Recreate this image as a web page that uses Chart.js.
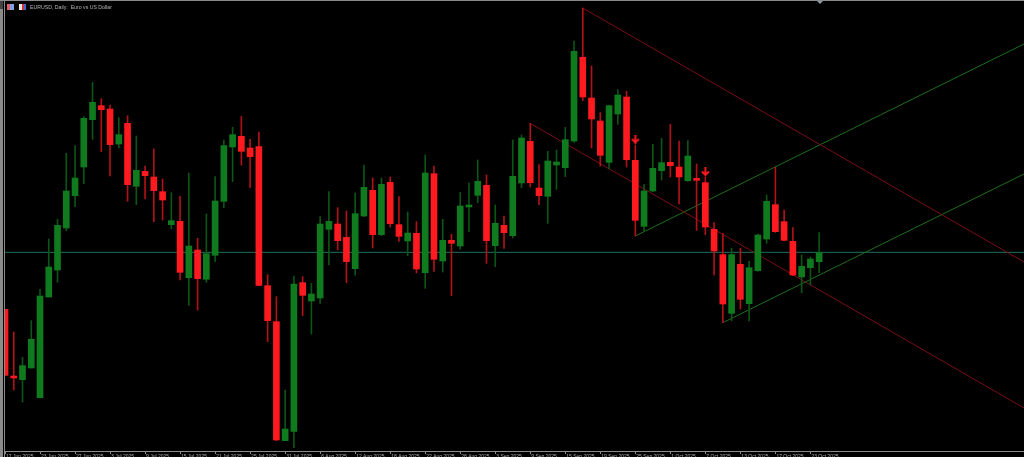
<!DOCTYPE html>
<html>
<head>
<meta charset="utf-8">
<title>EURUSD, Daily</title>
<script src="https://cdn.jsdelivr.net/npm/chart.js@4/dist/chart.umd.min.js"></script>
<style>
  html, body { margin: 0; padding: 0; background: #000; overflow: hidden; }
  #wrap { position: relative; width: 1024px; height: 457px; }
  canvas { position: absolute; left: 0; top: 0; }
  .edge { position: absolute; background: #8a8a8a; }
  .title { position: absolute; left: 30px; top: 4px; color: #b4b4b4; font: 5.2px "Liberation Sans", sans-serif; white-space: nowrap; }
  .icon { position: absolute; top: 4px; width: 7px; height: 6px; }
  .marker { position: absolute; left: 817px; top: 1px; border-left: 3px solid transparent; border-right: 3px solid transparent; border-top: 3px solid #8a97a8; }
</style>
</head>
<body>
<div id="wrap">
  <canvas id="chart" width="1024" height="457"></canvas>
  <div class="edge" style="left:0;top:0;width:1024px;height:1px"></div>
  <div class="edge" style="left:0;top:1px;width:3px;height:8px;background:#444"></div>
  <div class="edge" style="left:0;top:9px;width:3px;height:448px"></div>
  <div class="icon" style="left:7px;background:linear-gradient(90deg,#e0606a 50%,#7f9fe0 50%)"></div>
  <div class="icon" style="left:19px;background:linear-gradient(90deg,#e8e8e8 40%,#d83030 40%,#d83030 65%,#3a6fd0 65%)"></div>
  <div class="title">EURUSD, Daily:&nbsp; Euro vs US Dollar</div>
  <div class="marker"></div>
</div>
<script>
const categories = [
  '17 Jun 2025','18 Jun 2025','19 Jun 2025','20 Jun 2025','23 Jun 2025','24 Jun 2025','25 Jun 2025','26 Jun 2025','27 Jun 2025','30 Jun 2025',
  '1 Jul 2025','2 Jul 2025','3 Jul 2025','4 Jul 2025','7 Jul 2025','8 Jul 2025','9 Jul 2025','10 Jul 2025','11 Jul 2025','14 Jul 2025',
  '15 Jul 2025','16 Jul 2025','17 Jul 2025','18 Jul 2025','21 Jul 2025','22 Jul 2025','23 Jul 2025','24 Jul 2025','25 Jul 2025','28 Jul 2025',
  '29 Jul 2025','30 Jul 2025','31 Jul 2025','1 Aug 2025','4 Aug 2025','5 Aug 2025','6 Aug 2025','7 Aug 2025','8 Aug 2025','11 Aug 2025',
  '12 Aug 2025','13 Aug 2025','14 Aug 2025','15 Aug 2025','18 Aug 2025','19 Aug 2025','20 Aug 2025','21 Aug 2025','22 Aug 2025','25 Aug 2025',
  '26 Aug 2025','27 Aug 2025','28 Aug 2025','29 Aug 2025','1 Sep 2025','2 Sep 2025','3 Sep 2025','4 Sep 2025','5 Sep 2025','8 Sep 2025',
  '9 Sep 2025','10 Sep 2025','11 Sep 2025','12 Sep 2025','15 Sep 2025','16 Sep 2025','17 Sep 2025','18 Sep 2025','19 Sep 2025','22 Sep 2025',
  '23 Sep 2025','24 Sep 2025','25 Sep 2025','26 Sep 2025','29 Sep 2025','30 Sep 2025','1 Oct 2025','2 Oct 2025','3 Oct 2025','6 Oct 2025',
  '7 Oct 2025','8 Oct 2025','9 Oct 2025','10 Oct 2025','13 Oct 2025','14 Oct 2025','15 Oct 2025','16 Oct 2025','17 Oct 2025','20 Oct 2025',
  '21 Oct 2025','22 Oct 2025','23 Oct 2025','24 Oct 2025'
];

const opens = [
  1.15568,1.14768,1.14724,1.14864,1.14508,1.15716,1.16040,1.16544,1.16932,1.17276,
  1.17844,1.18012,1.17972,1.17552,1.17800,1.17044,1.17224,1.17156,1.16980,1.16584,
  1.16624,1.15948,1.16280,1.15928,1.16216,1.16864,1.17516,1.17644,1.17504,1.17520,
  1.15852,1.15420,1.13992,1.14104,1.15888,1.15668,1.15704,1.16528,1.16592,1.16432,
  1.16056,1.16688,1.16996,1.16464,1.17092,1.16584,1.16388,1.16480,1.16008,1.17196,
  1.16148,1.16396,1.16328,1.16796,1.16936,1.17056,1.16332,1.16576,1.16452,1.17084,
  1.17584,1.17024,1.16924,1.17300,1.17268,1.17588,1.18592,1.18104,1.17828,1.17332,
  1.17912,1.18116,1.17356,1.16564,1.16988,1.17232,1.17332,1.17276,1.17112,1.17140,
  1.17088,1.16528,1.16224,1.15520,1.16108,1.15636,1.16032,1.16412,1.16824,1.16620,
  1.16384,1.15956,1.16068,1.16140
];
const highs = [
  1.15568,1.15296,1.14992,1.15432,1.15808,1.16412,1.16648,1.17440,1.17532,1.17880,
  1.18292,1.18096,1.18020,1.17868,1.17892,1.17648,1.17288,1.17492,1.17132,1.16968,
  1.16924,1.17204,1.16420,1.16712,1.17160,1.17600,1.17752,1.17884,1.17608,1.17696,
  1.15984,1.15720,1.14600,1.15968,1.15960,1.15880,1.16680,1.16980,1.16788,1.16748,
  1.16964,1.17300,1.17144,1.17144,1.17156,1.16920,1.16736,1.16620,1.17420,1.17288,
  1.16648,1.16468,1.16972,1.17084,1.17360,1.17180,1.16820,1.16688,1.17600,1.17660,
  1.17800,1.17304,1.17464,1.17480,1.17752,1.18788,1.19184,1.18488,1.17928,1.18020,
  1.18204,1.18184,1.17540,1.17068,1.17548,1.17620,1.17788,1.17588,1.17592,1.17312,
  1.17160,1.16608,1.16480,1.16300,1.16300,1.16144,1.16472,1.16940,1.17272,1.16760,
  1.16548,1.16220,1.16196,1.16488
];
const lows = [
  1.14776,1.14600,1.14456,1.14864,1.14508,1.15716,1.15892,1.16512,1.16800,1.17076,
  1.17608,1.17460,1.17168,1.17504,1.16864,1.16824,1.16892,1.16620,1.16640,1.16536,
  1.15920,1.15616,1.15560,1.15892,1.16140,1.16788,1.17100,1.17300,1.17028,1.15856,
  1.15180,1.13992,1.13992,1.13908,1.15492,1.15272,1.15640,1.16100,1.16280,1.15888,
  1.15976,1.16680,1.16304,1.16452,1.16556,1.16384,1.16212,1.16004,1.15820,1.16024,
  1.16016,1.15732,1.16288,1.16500,1.16848,1.16120,1.16080,1.16300,1.16424,1.17028,
  1.17036,1.16824,1.16600,1.17008,1.17160,1.17572,1.18072,1.17504,1.17288,1.17256,
  1.17788,1.17276,1.16448,1.16500,1.16980,1.17120,1.17156,1.16832,1.17104,1.16516,
  1.16464,1.15980,1.15408,1.15432,1.15572,1.15428,1.16024,1.16360,1.16492,1.16388,
  1.15972,1.15768,1.15860,1.16008
];
const closes = [
  1.14776,1.14744,1.14892,1.15208,1.15728,1.16076,1.16576,1.16988,1.17144,1.17860,
  1.18052,1.17964,1.17544,1.17664,1.17064,1.17236,1.17172,1.16992,1.16880,1.16632,
  1.16012,1.16328,1.15936,1.16236,1.16868,1.17532,1.17664,1.17464,1.17400,1.15856,
  1.15432,1.14000,1.14132,1.15872,1.15736,1.15752,1.16592,1.16624,1.16392,1.16140,
  1.16716,1.17032,1.16464,1.17068,1.16596,1.16444,1.16484,1.16052,1.17204,1.16168,
  1.16396,1.16360,1.16808,1.16820,1.17104,1.16392,1.16600,1.16488,1.17164,1.17624,
  1.17088,1.16932,1.17348,1.17336,1.17604,1.18664,1.18116,1.17852,1.17416,1.18012,
  1.18140,1.17364,1.16636,1.16988,1.17260,1.17328,1.17292,1.17156,1.17408,1.17116,
  1.16556,1.16268,1.15632,1.16224,1.15688,1.16068,1.16460,1.16864,1.16500,1.16396,
  1.15980,1.16084,1.16172,1.16248
];

// trend lines, [bar index, price]
const redUpper = [[66, 1.19184], [116.4, 1.16136]];
const redLower = [[60, 1.17800], [116.4, 1.14384]];
const greenUpper = [[72, 1.16448], [116.4, 1.18752]];
const greenLower = [[82, 1.15408], [116.4, 1.17192]];
const priceLine = [[0, 1.16252], [116.4, 1.16252]];

const arrowBars = [72, 80];
const arrowPrices = [1.17612, 1.17222];

const RED = '#ff1a1f';
const GREEN = '#0f7a1e';
const RED_WICK = '#b01218';
const GREEN_WICK = '#0b5516';

const arrowIcon = document.createElement('canvas');
arrowIcon.width = 9;
arrowIcon.height = 9;
const ic = arrowIcon.getContext('2d');
ic.strokeStyle = RED;
ic.lineWidth = 2;
ic.beginPath();
ic.moveTo(4.5, 0);
ic.lineTo(4.5, 8);
ic.moveTo(1, 4.5);
ic.lineTo(4.5, 8);
ic.lineTo(8, 4.5);
ic.stroke();

const isUp = (i) => closes[i] >= opens[i];
const trend = (pts, color) => ({
  type: 'line',
  data: pts.map(([x, y]) => ({ x, y })),
  borderColor: color,
  borderWidth: 1,
  pointRadius: 0,
  order: 3
});

new Chart(document.getElementById('chart'), {
  type: 'bar',
  data: {
    datasets: [
      {
        // arrows on top of everything
        type: 'scatter',
        data: arrowBars.map((x, i) => ({ x, y: arrowPrices[i] })),
        pointStyle: arrowIcon,
        order: 0
      },
      {
        data: opens.map((o, i) => ({ x: i, y: [o, closes[i]] })),
        backgroundColor: opens.map((o, i) => (isUp(i) ? GREEN : RED)),
        barThickness: 6,
        grouped: false,
        order: 1
      },
      {
        data: lows.map((l, i) => ({ x: i, y: [l, highs[i]] })),
        backgroundColor: opens.map((o, i) => (isUp(i) ? GREEN_WICK : RED_WICK)),
        barThickness: 1,
        grouped: false,
        order: 2
      },
      trend(redUpper, '#7a0f16'),
      trend(redLower, '#7a0f16'),
      trend(greenUpper, '#1c6e1c'),
      trend(greenLower, '#1c6e1c'),
      trend(priceLine, '#1f6f62')
    ]
  },
  options: {
    responsive: false,
    animation: false,
    layout: { autoPadding: false, padding: { left: 5, top: 2, right: 0, bottom: 0 } },
    plugins: { legend: { display: false }, tooltip: { enabled: false } },
    scales: {
      x: {
        type: 'linear',
        offset: false,
        min: 0,
        max: 116.4,
        afterFit: (scale) => {
          scale.height = 6;
          scale.paddingLeft = 0;
          scale.paddingRight = 0;
        },
        border: { color: '#8a8a8a' },
        grid: {
          offset: false,
          drawOnChartArea: false,
          tickLength: 3,
          tickColor: (c) => (c.tick && c.tick.value <= 92 ? '#8a8a8a' : 'transparent')
        },
        ticks: {
          stepSize: 4,
          includeBounds: false,
          autoSkip: false,
          maxRotation: 0,
          align: 'start',
          labelOffset: 1,
          padding: 0,
          color: '#a8a8a8',
          font: { family: 'Liberation Sans', size: 5 },
          callback: (v) => categories[v] && v <= 92 ? categories[v] : ''
        }
      },
      y: {
        min: 1.13868,
        max: 1.19256,
        display: false
      }
    }
  },
  plugins: [{
    id: 'leftEdge',
    afterDraw(chart) {
      const { ctx, chartArea } = chart;
      ctx.save();
      ctx.fillStyle = '#8a8a8a';
      ctx.fillRect(chartArea.left - 1, chartArea.top - 2, 1, chartArea.height + 8);
      ctx.restore();
    }
  }]
});
</script>
</body>
</html>
